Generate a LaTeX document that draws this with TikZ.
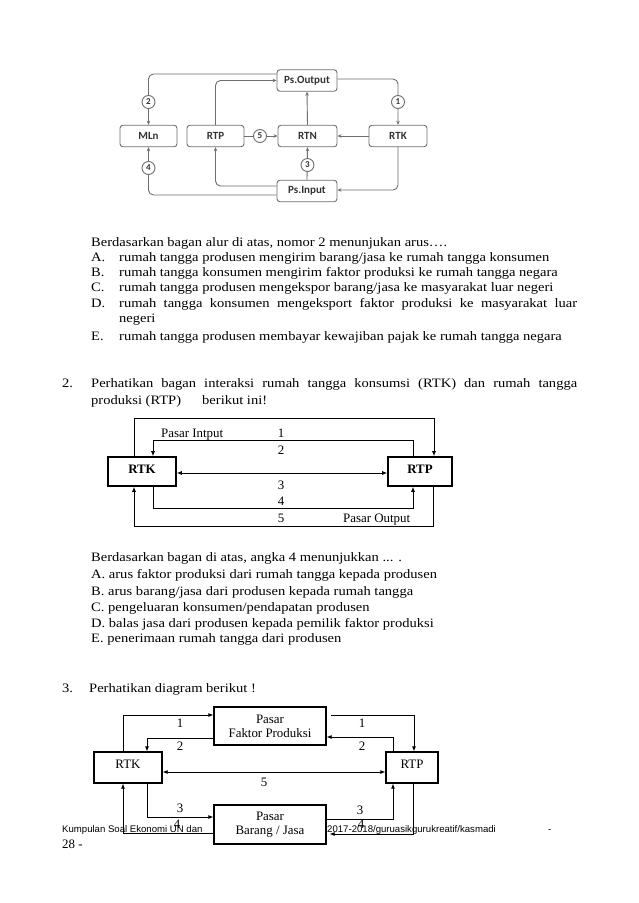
\documentclass[tikz,border=0pt]{standalone}
\usepackage{fontspec}
\setmainfont{Liberation Serif}
\newfontfamily\palfont{Liberation Serif}[FakeStretch=1.13]
\newfontfamily\calfont{Carlito}
\newfontfamily\arialfont{Liberation Sans}
\usetikzlibrary{arrows.meta,calc}
\definecolor{gA}{HTML}{6E6E6E}
\definecolor{tA}{HTML}{333333}
\tikzset{
  body/.style={anchor=base west,inner sep=0pt,font=\palfont\fontsize{12.86}{15}\selectfont},
  tm/.style={anchor=base,inner sep=0pt,font=\fontsize{12.9}{14}\selectfont},
  boxA/.style={draw=gA,rounded corners=3pt,line width=0.9pt,minimum height=21.5pt,inner sep=0pt,text=tA,font=\calfont\bfseries\fontsize{11}{13}\selectfont},
  conA/.style={draw=gA,line width=0.9pt,-{Stealth[length=4pt,width=3.5pt]}},
  circA/.style={circle,draw=gA,fill=white,line width=0.9pt,minimum size=13pt,inner sep=0pt,text=tA,font=\calfont\bfseries\fontsize{9}{10}\selectfont},
  boxB/.style={draw,line width=1.6pt,inner sep=0pt,minimum height=29pt,text height=8.5pt,text depth=5pt,font=\bfseries\fontsize{12.9}{14}\selectfont},
  conB/.style={line width=0.8pt,-{Latex[length=5pt,width=4pt]}},
  boxC/.style={draw,fill=white,line width=1.3pt,inner sep=0pt,align=center,font=\fontsize{12.9}{14}\selectfont},
  conC/.style={line width=0.8pt,-{Latex[length=5pt,width=4pt]}},
  foot/.style={anchor=base west,inner sep=0pt,font=\arialfont\fontsize{9.6}{11}\selectfont}
}
\begin{document}
\begin{tikzpicture}[x=1pt,y=-1pt]
\useasboundingbox[fill=white] (0,0) rectangle (638,903);

% ---------- Diagram 1 ----------
\node[boxA,minimum width=60pt] (psout) at (307,80.5) {Ps.Output};
\node[boxA,minimum width=57pt] (mln) at (148.5,136) {MLn};
\node[boxA,minimum width=57pt] (rtpA) at (215.5,136) {RTP};
\node[boxA,minimum width=59pt] (rtn) at (307.5,136) {RTN};
\node[boxA,minimum width=58pt] (rtkA) at (398,136) {RTK};
\node[boxA,minimum width=60pt] (psin) at (307,191) {Ps.Input};

\draw[conA,rounded corners=5pt] ($(psout.west)+(0,-6.5)$) -| (mln.north);
\draw[conA,rounded corners=5pt] (rtpA.north) |- (psout.west);
\draw[conA,rounded corners=5pt] ($(psout.east)+(0,-1.5)$) -| (rtkA.north);
\draw[conA] (rtpA.east) -- (rtn.west);
\draw[conA] (rtkA.west) -- (rtn.east);
\draw[conA] (rtn.north) -- (psout.south);
\draw[conA] (psin.north) -- (rtn.south);
\draw[conA,rounded corners=5pt] (rtkA.south) |- ($(psin.east)+(0,-1)$);
\draw[conA,rounded corners=5pt] ($(psin.west)+(0,-5)$) -| (rtpA.south);
\draw[conA,rounded corners=5pt] ($(psin.west)+(0,4)$) -| (mln.south);

\node[circA] (c2) at (148.5,102) {2};
\node[circA] (c1) at (398,102) {1};
\node[circA] (c5) at (260,136) {5};
\node[circA] (c3) at (307.5,165) {3};
\node[circA] (c4) at (148.5,168) {4};

% ---------- Text 1 ----------
\node[body] (t1) at (91,246) {Berdasarkan bagan alur di atas, nomor 2 menunjukan arus\dots.};
\node[body] (la) at (91,261) {A.};
\node[body] (ta) at (119,261) {rumah tangga produsen mengirim barang/jasa ke rumah tangga konsumen};
\node[body] (lb) at (91,276) {B.};
\node[body] (tb) at (119,276) {rumah tangga konsumen mengirim faktor produksi ke rumah tangga negara};
\node[body] (lc) at (91,291) {C.};
\node[body] (tc) at (119,291) {rumah tangga produsen mengekspor barang/jasa ke masyarakat luar negeri};
\node[body] (ld) at (91,307) {D.};
\node[body] (td) at (119,307) {\makebox[458pt][s]{rumah tangga konsumen mengeksport faktor produksi ke masyarakat luar}};
\node[body] (td2) at (119,322) {negeri};
\node[body] (le) at (91,340) {E.};
\node[body] (te) at (119,340) {rumah tangga produsen membayar kewajiban pajak ke rumah tangga negara};

% ---------- Question 2 ----------
\node[body] (n2) at (62,387) {2.};
\node[body] (q2a) at (91,387) {\makebox[486pt][s]{Perhatikan bagan interaksi rumah tangga konsumsi (RTK) dan rumah tangga}};
\node[body] (q2b) at (91,404) {produksi (RTP)};
\node[body] (q2c) at (202,404) {berikut ini!};

\node[boxB,minimum width=68pt] (rtkB) at (142,471.5) {RTK};
\node[boxB,minimum width=64pt] (rtpB) at (420,471.5) {RTP};

\draw[conB] ([xshift=-8pt]rtkB.north) -- ++(0,-38) -| ([xshift=14pt]rtpB.north);
\draw[conB] ([xshift=-7pt]rtpB.north) -- ++(0,-16) -| ([xshift=11pt]rtkB.north);
\draw[conB,{Latex[length=5pt,width=4pt]}-{Latex[length=5pt,width=4pt]}] ([yshift=-1.5pt]rtkB.east) -- ([yshift=-1.5pt]rtpB.west);
\draw[conB] ([xshift=11pt]rtkB.south) -- ++(0,22) -| ([xshift=-7pt]rtpB.south);
\draw[conB] ([xshift=13pt]rtpB.south) -- ++(0,40) -| ([xshift=-8pt]rtkB.south);

\node[tm,anchor=base west] (pin) at (161,437) {Pasar Intput};
\node[tm] (b1) at (281,437) {1};
\node[tm] (b2) at (281,454) {2};
\node[tm] (b3) at (281,489) {3};
\node[tm] (b4) at (281,505) {4};
\node[tm] (b5) at (281,522) {5};
\node[tm,anchor=base west] (pout) at (343,522) {Pasar Output};

% ---------- Text 2 ----------
\node[body] (s1) at (91,561) {Berdasarkan bagan di atas, angka 4 menunjukkan ... .};
\node[body] (sa) at (91,578) {A. arus faktor produksi dari rumah tangga kepada produsen};
\node[body] (sb) at (91,595) {B. arus barang/jasa dari produsen kepada rumah tangga};
\node[body] (sc) at (91,611) {C. pengeluaran konsumen/pendapatan produsen};
\node[body] (sd) at (91,627) {D. balas jasa dari produsen kepada pemilik faktor produksi};
\node[body] (se) at (91,642) {E. penerimaan rumah tangga dari produsen};

% ---------- Question 3 ----------
\node[body] (n3) at (62,692) {3.};
\node[body] (q3) at (89,692) {Perhatikan diagram berikut !};

% footer (under diagram 3)
\node[foot] (f1) at (62,832.5) {Kumpulan Soal Ekonomi UN dan};
\node[foot] (f2) at (327,832.5) {2017-2018/guruasikgurukreatif/kasmadi};
\node[foot] (f3) at (548,832.5) {-};
\node[tm,anchor=base west] (f4) at (62,848) {28 -};

\node[boxC,minimum width=112pt,minimum height=38pt] (pfp) at (270,726) {Pasar\\Faktor Produksi};
\node[boxC,minimum width=112pt,minimum height=39pt] (pbj) at (270,824.5) {Pasar\\Barang / Jasa};
\node[boxC,minimum width=68pt,minimum height=31pt,text height=8.5pt,text depth=7pt] (rtkC) at (128,767.5) {RTK};
\node[boxC,minimum width=52pt,minimum height=31pt,text height=8.5pt,text depth=7pt] (rtpC) at (412,767.5) {RTP};

\draw[conC] ([xshift=-5pt]rtkC.north) |- ([yshift=11pt]pfp.west);
\draw[conC] ([yshift=-12pt]pfp.west) -| ([xshift=19pt]rtkC.north);
\draw[conC] ([xshift=4pt,yshift=11pt]pfp.east) -| ([xshift=2pt]rtpC.north);
\draw[conC] ([xshift=-19pt]rtpC.north) |- ([yshift=-11pt]pfp.east);
\draw[conC,{Latex[length=5pt,width=4pt]}-{Latex[length=5pt,width=4pt]}] ([yshift=-4.5pt]rtkC.east) -- ([yshift=-4.5pt]rtpC.west);
\draw[conC] ([xshift=19pt]rtkC.south) |- ([yshift=7.5pt]pbj.west);
\draw[conC] ([yshift=-8.5pt]pbj.west) -| ([xshift=-5pt]rtkC.south);
\draw[conC] ([yshift=5.5pt]pbj.east) -| ([xshift=-19pt]rtpC.south);
\draw[conC] ([xshift=1pt]rtpC.south) |- ([xshift=3pt,yshift=-9.5pt]pbj.east);

\node[tm] (d1a) at (180,727) {1};
\node[tm] (d2a) at (180,750) {2};
\node[tm] (d1b) at (362,727) {1};
\node[tm] (d2b) at (362,750) {2};
\node[tm] (d5) at (264,786) {5};
\node[tm] (d3a) at (180,812) {3};
\node[tm] (d4a) at (177,828) {4};
\node[tm] (d3b) at (360,814) {3};
\node[tm] (d4b) at (361,828) {4};
\end{tikzpicture}
\end{document}
